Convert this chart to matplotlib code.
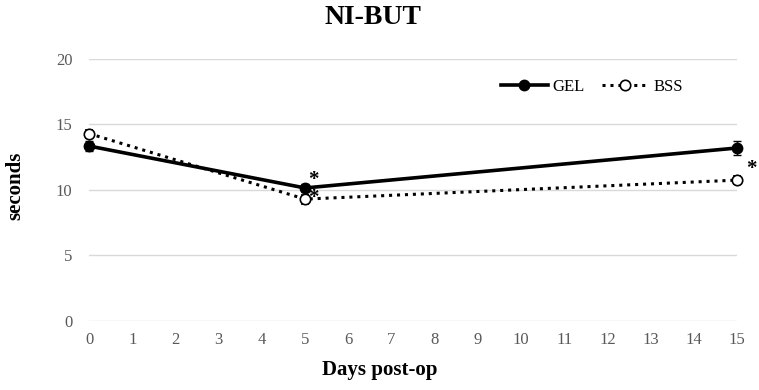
import matplotlib
matplotlib.use("Agg")
import matplotlib.pyplot as plt
from matplotlib.lines import Line2D

days = [0, 5, 15]
gel = [13.35, 10.15, 13.2]
gel_err = [0.35, 0.3, 0.5]
bss = [14.3, 9.3, 10.75]
bss_err = [0.3, 0.35, 0.3]
xticks = list(range(0, 16))
yticks = [0, 5, 10, 15, 20]

plt.rcParams['font.family'] = ['Liberation Serif', 'DejaVu Serif']

fig = plt.figure(figsize=(7.59, 3.90), dpi=100)
ax = fig.add_axes([0.1173, 0.177, 0.9710 - 0.1173, 0.849 - 0.177])

g = ax.errorbar(days, gel, yerr=gel_err, color='black', lw=2.6, marker='o', ms=7.5,
                mfc='black', mec='black', capsize=3, elinewidth=1, zorder=3)
b = ax.errorbar(days, bss, yerr=bss_err, color='black', lw=2.2, ls=(0, (1, 1.6)), marker='o', ms=7.5,
                mfc='white', mec='black', mew=1.2, capsize=3, elinewidth=1, zorder=3)
for cont in (g, b):
    for art in cont.get_children():
        art.set_clip_on(False)

for x, y, dx, dy in [(days[1], gel[1], 6, 6), (days[1], bss[1], 6, 1), (days[2], bss[2], 10, 8)]:
    ax.annotate('*', (x, y), xytext=(dx, dy), textcoords='offset points',
                fontsize=15, fontweight='bold', ha='center', va='center')

ax.set_xlim(0, 15)
ax.set_ylim(0, 20)
ax.set_xticks(xticks)
ax.set_yticks(yticks)
ax.tick_params(axis='both', length=0, labelsize=12, colors='#595959')
ax.tick_params(axis='y', pad=12)
ax.tick_params(axis='x', pad=8)
ax.grid(axis='y', color='#d9d9d9', lw=1)
ax.set_axisbelow(True)
for s in ax.spines.values():
    s.set_visible(False)

fig.text(0.491, 1 - 18 / 390, 'NI-BUT', fontsize=20, fontweight='bold', ha='center', va='center')
fig.text(15 / 759, (390 - 186) / 390, 'seconds', fontsize=15, fontweight='bold', rotation=90,
         ha='center', va='center')
fig.text(0.5, 1 - 370 / 390, 'Days post-op', fontsize=15, fontweight='bold', ha='center', va='center')

handles = [Line2D([], [], color='black', lw=2.6, marker='o', ms=7.5, mfc='black'),
           Line2D([], [], color='black', lw=2.2, ls=(0, (1, 1.6)), marker='o', ms=7.5, mfc='white', mew=1.2)]
leg = fig.legend(handles, ['GEL', 'BSS'], loc='center left', bbox_to_anchor=(486 / 759, 1 - 87 / 390), ncol=2,
                 frameon=False, fontsize=12, handlelength=2.8, columnspacing=1.0, handletextpad=0.3)

fig.savefig('out.png', dpi=100)
